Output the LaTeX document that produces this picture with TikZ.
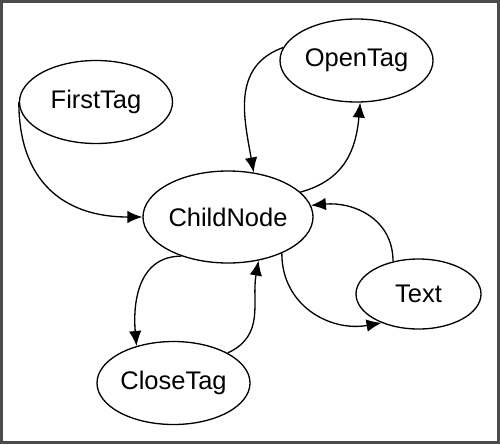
\documentclass[tikz,border=0pt]{standalone}
\usepackage{fontspec}
\setmainfont{Liberation Sans}
\usetikzlibrary{shapes.geometric, arrows.meta}

\begin{document}
\begin{tikzpicture}[
    >={Latex[length=3mm, width=2.5mm]},
    tagnode/.style={draw, ellipse, line width=0.75pt, inner sep=0pt, minimum width=3.06cm, minimum height=1.66cm, font=\fontsize{14.5}{16}\selectfont},
    link/.style={->, line width=0.75pt}
]

% Frame
\useasboundingbox (0,0) rectangle (10,8.88);
\draw[gray!60!black, line width=1.5pt] (0.03,0.03) rectangle (9.97,8.85);

% Nodes
\node[tagnode] (first) at (1.92,6.84) {FirstTag};
\node[tagnode] (open) at (7.13,7.67) {OpenTag};
\node[tagnode, minimum width=3.4cm, minimum height=1.84cm] (child) at (4.56,4.54) {ChildNode};
\node[tagnode, minimum width=2.5cm, minimum height=1.4cm] (text) at (8.37,3.0) {Text};
\node[tagnode] (close) at (3.47,1.22) {CloseTag};

% Edges
\draw[link] (first.west) to[out=-90, in=180, looseness=1.2] (child.west);
\draw[link] (open.170) to[out=200, in=100, looseness=1.1] (child.60);
\draw[link] (child.19) to[out=15, in=-95, looseness=1.1] (open.-85);
\draw[link] (text.128) to[out=90, in=5, looseness=1.1] (child.8);
\draw[link] (child.-34) to[out=-90, in=190, looseness=1.1] (text.-142);
\draw[link] (child.220) to[out=180, in=95, looseness=1.1] (close.135);
\draw[link] (close.29) to[out=25, in=-100, looseness=1.1] (child.-55);

\end{tikzpicture}
\end{document}
